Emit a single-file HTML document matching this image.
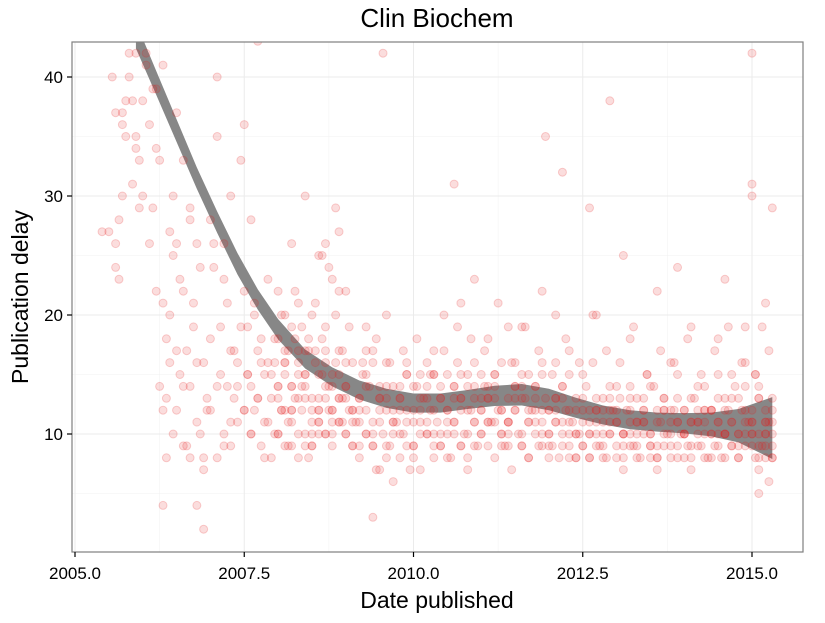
<!DOCTYPE html>
<html><head><meta charset="utf-8"><style>
body{margin:0;background:#fff;font-family:"Liberation Sans",sans-serif}
svg text{font-family:"Liberation Sans",sans-serif}
</style></head><body>
<svg id="chart" width="825" height="618" xmlns="http://www.w3.org/2000/svg">
<rect width="825" height="618" fill="#fff"/>
<text x="437" y="27" font-size="26" text-anchor="middle">Clin Biochem</text>
<g id="grid"></g>
<g id="smooth"></g>
<g id="pts"></g>
<rect x="72" y="42" width="731" height="510" fill="none" stroke="#7f7f7f" stroke-width="1.2"/>
<g id="axes"></g>
<text x="437" y="608" font-size="23" text-anchor="middle">Date published</text>
<text transform="translate(28,297) rotate(-90)" font-size="23" text-anchor="middle">Publication delay</text>
</svg>
<script>
const xTicks=[2005,2007.5,2010,2012.5,2015];
const xTickLabels=["2005.0","2007.5","2010.0","2012.5","2015.0"];
const yTicks=[10,20,30,40];
const smoothX=[2005.9,2006.2,2006.5,2006.8,2007.1,2007.4,2007.7,2008,2008.4,2008.8,2009.2,2009.6,2010,2010.4,2010.8,2011.2,2011.6,2012,2012.4,2012.8,2013.2,2013.6,2014,2014.4,2014.8,2015.3];
const smoothY=[43.5,39.5,35.5,31.5,27.8,24.3,21.3,18.8,16.3,14.8,13.7,13.0,12.6,12.6,12.9,13.2,13.3,12.9,12.2,11.6,11.2,11.0,10.9,10.8,10.7,10.5];
const smoothHalf=[1.1,1.0,0.95,0.9,0.9,0.9,0.85,0.85,0.8,0.8,0.8,0.8,0.8,0.8,0.8,0.85,0.9,0.9,0.85,0.8,0.8,0.8,0.85,1.0,1.4,2.6];
const dates=[2005.4,2005.5,2005.6,2005.6,2005.65,2005.7,2005.7,2005.75,2005.8,2005.85,2005.9,2005.9,2005.95,2005.95,2005.6,2005.65,2005.7,2005.8,2005.85,
2006.0,2006.0,2006.05,2006.1,2006.1,2006.15,2006.2,2006.2,2006.25,2006.25,2006.3,2006.3,2006.35,2006.35,2006.4,2006.4,2006.45,2006.45,2006.5,2006.5,2006.55,2006.6,2006.6,2006.65,2006.7,2006.7,2006.75,2006.8,2006.8,2006.85,2006.9,2006.9,2006.95,2006.3,2006.35,2006.4,2006.45,2006.5,2006.55,2006.6,2006.65,2006.7,2006.75,2006.8,2006.85,2006.9,2006.95,2006.2,2006.3,2006.5,2006.6,2006.7,2006.8,2006.9,
2007.0,2007.0,2007.05,2007.1,2007.1,2007.15,2007.2,2007.2,2007.25,2007.3,2007.3,2007.35,2007.4,2007.4,2007.45,2007.5,2007.5,2007.55,2007.6,2007.6,2007.65,2007.7,2007.7,2007.75,2007.8,2007.8,2007.85,2007.9,2007.9,2007.95,2007.0,2007.1,2007.2,2007.3,2007.4,2007.5,2007.6,2007.7,2007.8,2007.9,2007.05,2007.15,2007.25,2007.35,2007.45,2007.55,2007.65,2007.75,2007.85,2007.95,2007.1,2007.3,2007.5,2007.7,2007.2,2007.6,
2008.0,2008.0,2008.05,2008.1,2008.1,2008.15,2008.2,2008.2,2008.25,2008.3,2008.3,2008.35,2008.4,2008.4,2008.45,2008.5,2008.5,2008.55,2008.6,2008.6,2008.65,2008.7,2008.7,2008.75,2008.8,2008.8,2008.85,2008.9,2008.9,2008.95,2008.0,2008.1,2008.2,2008.3,2008.4,2008.5,2008.6,2008.7,2008.8,2008.9,2008.05,2008.15,2008.25,2008.35,2008.45,2008.55,2008.65,2008.75,2008.85,2008.95,2008.2,2008.4,2008.6,2008.8,2008.5,2008.7];
const delays=[27,27,26,37,23,37,30,35,40,38,42,34,29,33,24,28,36,42,31,
38,30,42,36,26,29,22,34,14,33,12,21,18,8,16,27,10,30,12,26,15,9,22,17,8,14,19,11,26,10,8,16,12,4,13,20,25,17,23,14,9,28,21,16,24,7,13,39,41,37,33,29,4,2,
18,12,26,8,35,15,10,23,14,17,9,13,16,11,19,12,22,15,10,14,20,13,17,9,15,11,16,8,13,10,28,14,9,11,14,12,10,13,8,15,24,19,21,17,33,15,12,18,11,16,40,30,36,43,26,28,
10,22,12,9,16,11,14,19,13,8,21,12,15,10,18,13,9,17,12,11,15,10,19,14,12,9,16,11,22,13,14,17,12,10,9,20,13,10,15,11,12,9,18,14,8,16,25,12,29,11,26,30];
const dates2=[2009.0,2009.0,2009.05,2009.1,2009.1,2009.15,2009.2,2009.2,2009.25,2009.3,2009.3,2009.35,2009.4,2009.4,2009.45,2009.5,2009.5,2009.55,2009.6,2009.6,2009.65,2009.7,2009.7,2009.75,2009.8,2009.8,2009.85,2009.9,2009.9,2009.95,
2010.0,2010.0,2010.05,2010.1,2010.1,2010.15,2010.2,2010.2,2010.25,2010.3,2010.3,2010.35,2010.4,2010.4,2010.45,2010.5,2010.5,2010.55,2010.6,2010.6,2010.65,2010.7,2010.7,2010.75,2010.8,2010.8,2010.85,2010.9,2010.9,2010.95,
2011.0,2011.0,2011.05,2011.1,2011.1,2011.15,2011.2,2011.2,2011.25,2011.3,2011.3,2011.35,2011.4,2011.4,2011.45,2011.5,2011.5,2011.55,2011.6,2011.6,2011.65,2011.7,2011.7,2011.75,2011.8,2011.8,2011.85,2011.9,2011.9,2011.95,
2012.0,2012.0,2012.05,2012.1,2012.1,2012.15,2012.2,2012.2,2012.25,2012.3,2012.3,2012.35,2012.4,2012.4,2012.45,2012.5,2012.5,2012.55,2012.6,2012.6,2012.65,2012.7,2012.7,2012.75,2012.8,2012.8,2012.85,2012.9,2012.9,2012.95,
2013.0,2013.0,2013.05,2013.1,2013.1,2013.15,2013.2,2013.2,2013.25,2013.3,2013.3,2013.35,2013.4,2013.4,2013.45,2013.5,2013.5,2013.55,2013.6,2013.6,2013.65,2013.7,2013.7,2013.75,2013.8,2013.8,2013.85,2013.9,2013.9,2013.95,
2014.0,2014.0,2014.05,2014.1,2014.1,2014.15,2014.2,2014.2,2014.25,2014.3,2014.3,2014.35,2014.4,2014.4,2014.45,2014.5,2014.5,2014.55,2014.6,2014.6,2014.65,2014.7,2014.7,2014.75,2014.8,2014.8,2014.85,2014.9,2014.9,2014.95,
2015.0,2015.0,2015.05,2015.1,2015.1,2015.15,2015.2,2015.2,2015.25,2015.3,2015.3,2015.0,2015.05,2015.1,2015.15,2015.2,2015.25,2015.3,2015.3,2015.0,2015.1,2015.2,
2005.55,2005.75,2005.9,2006.05,2006.15,2012.6,2012.9,2013.1,2014.6,2015.0,2009.4,2009.55,2010.6,2011.6,2011.95,2012.2];
const delays2=[10,14,12,9,16,11,13,8,15,10,12,14,9,17,7,11,13,10,16,12,9,14,6,11,13,8,10,15,12,7,
12,9,14,11,7,13,10,16,12,8,15,11,9,13,17,10,12,8,14,11,19,9,13,10,15,7,12,11,14,9,
12,10,14,9,13,11,8,15,12,10,16,9,13,11,7,14,12,10,15,9,13,11,8,12,14,10,9,16,11,13,
10,12,9,13,11,8,14,10,12,9,15,11,8,13,10,12,9,14,11,8,16,10,12,9,13,11,8,14,10,12,
11,9,13,10,8,12,11,14,9,10,13,8,12,11,15,9,10,14,8,12,11,9,13,10,16,8,12,11,9,10,
10,12,9,11,8,13,10,12,9,14,11,8,10,12,9,15,11,8,13,10,12,9,11,14,8,10,12,9,16,11,
9,11,8,10,13,9,12,8,11,10,9,30,15,7,19,11,6,29,13,42,5,21,
40,38,35,41,39,29,38,25,23,31,3,42,31,19,35,32];
const dates3=[2007.55,2007.65,2007.75,2007.85,2007.95,2008.05,2008.15,2008.25,2008.35,2008.45,2008.55,2008.65,2008.75,2008.85,2008.95,2009.05,2009.25,2009.45,2009.65,2009.85,2010.05,2010.25,2010.45,2010.65,2010.85,2011.05,2011.25,2011.45,2011.65,2011.85,2012.05,2012.25,2012.45,2012.65,2012.85,2013.05,2013.25,2013.45,2013.65,2013.85,2014.05,2014.25,2014.45,2014.65,2014.85,2015.05,2015.25,
2008.6,2008.7,2008.8,2009.0,2009.3,2009.6,2010.3,2010.7,2011.1,2011.4,2011.9,2012.3,2012.7,2013.2,2013.6,2014.1,2014.5,2014.9,2008.9,2010.9,2012.1,2013.9];
const delays3=[19,21,16,23,18,20,17,22,19,17,21,18,24,20,17,19,16,18,16,17,18,15,20,16,18,17,21,16,19,17,15,18,16,20,17,16,19,15,17,16,18,15,17,19,16,15,17,
25,26,23,22,19,20,17,21,18,19,22,17,20,18,22,19,18,19,27,23,20,24];
const sweepDates=[2008.0,2008.2,2008.4,2008.6,2008.8,2009.0,2009.2,2009.4,2009.6,2009.8,2010.0,2010.2,2010.4,2010.6,2010.8,2011.0,2011.2,2011.4,2011.6,2011.8,2012.0,2012.2,2012.4,2012.6,2012.8,2013.0,2013.2,2013.4,2013.6,2013.8,2014.0,2014.2,2014.4,2014.6,2014.8,2015.0,2015.2,
2008.1,2008.3,2008.5,2008.7,2008.9,2009.1,2009.3,2009.5,2009.7,2009.9,2010.1,2010.3,2010.5,2010.7,2010.9,2011.1,2011.3,2011.5,2011.7,2011.9,2012.1,2012.3,2012.5,2012.7,2012.9,2013.1,2013.3,2013.5,2013.7,2013.9,2014.1,2014.3,2014.5,2014.7,2014.9,2015.1,2015.3];
const sweepDelays1=[14,12,13,11,12,10,12,11,9,10,11,10,9,11,10,12,11,10,9,11,10,9,8,10,9,8,9,10,8,9,10,9,8,10,9,10,9,16,15,12,14,13,12,10,13,12,11,13,12,11,12,13,11,12,13,12,10,11,10,11,9,11,10,11,9,10,11,9,10,11,9,11,8,11];
const sweepDelays2=[18,14,17,15,11,14,13,9,14,13,8,14,13,10,14,13,14,11,14,13,12,11,10,12,10,12,10,12,11,10,12,11,10,12,10,12,10,12,17,10,13,15,11,14,12,10,15,12,9,15,13,9,11,10,12,11,15,13,12,9,11,12,9,11,8,12,13,11,12,9,11,12,9,8];
const sweepDelays3=[13,11,15,12,14,16,11,10,13,12,14,11,10,14,12,15,13,9,10,12,9,13,12,10,8,11,13,11,9,12,8,11,12,10,8,11,10,20,16,11,17,13,9,15,14,11,9,10,15,12,9,11,14,9,14,15,9,12,8,13,12,13,10,8,10,13,8,13,8,10,13,14,13,12];
const sweepDelays4=[10,9,14,10,10,13,9,16,8,14,9,13,14,13,8,10,15,11,13,14,8,14,10,8,12,14,12,13,7,11,10,14,12,8,13,10,11,15,13,9,16,17,12,17,7,11,16,15,10,8,15,16,13,12,16,8,12,16,11,15,13,10,7,9,14,12,15,7,12,13,15,10,14,8];
const X0=2005,X1=2015,PX0=75,PX1=752;const Y0=0,Y1=40,PY0=553,PY1=77;
const sx=v=>PX0+(v-X0)*(PX1-PX0)/(X1-X0);
const sy=v=>PY0+(v-Y0)*(PY1-PY0)/(Y1-Y0);
const NS="http://www.w3.org/2000/svg";
function mk(t,a){const e=document.createElementNS(NS,t);for(const k in a)e.setAttribute(k,a[k]);return e;}
const grid=document.getElementById('grid'),axes=document.getElementById('axes');
const minorX=[2006.25,2008.75,2011.25,2013.75];const minorY=[5,15,25,35];
minorX.forEach(v=>{const l=mk('line',{x1:sx(v),x2:sx(v),y1:42,y2:552,stroke:'#f2f2f2','stroke-width':0.6});grid.appendChild(l);});
minorY.forEach(v=>{const l=mk('line',{x1:72,x2:803,y1:sy(v),y2:sy(v),stroke:'#f2f2f2','stroke-width':0.6});grid.appendChild(l);});
xTicks.forEach((v,i)=>{const l=mk('line',{x1:sx(v),x2:sx(v),y1:42,y2:552,stroke:'#ebebeb','stroke-width':1});grid.appendChild(l);
const t=mk('line',{x1:sx(v),x2:sx(v),y1:552,y2:557,stroke:'#000','stroke-width':1.2});axes.appendChild(t);
const tx=mk('text',{x:sx(v),y:579,'font-size':17,'text-anchor':'middle'});tx.textContent=xTickLabels[i];axes.appendChild(tx);});
yTicks.forEach(v=>{const l=mk('line',{x1:72,x2:803,y1:sy(v),y2:sy(v),stroke:'#ebebeb','stroke-width':1});grid.appendChild(l);
const t=mk('line',{x1:67,x2:72,y1:sy(v),y2:sy(v),stroke:'#000','stroke-width':1.2});axes.appendChild(t);
const tx=mk('text',{x:63,y:sy(v)+6,'font-size':17,'text-anchor':'end'});tx.textContent=v;axes.appendChild(tx);});
let up=[],dn=[];smoothX.forEach((x,i)=>{up.push(sx(x)+','+sy(smoothY[i]+smoothHalf[i]));dn.unshift(sx(x)+','+sy(smoothY[i]-smoothHalf[i]));});
const cp=mk('clipPath',{id:'clip'});cp.appendChild(mk('rect',{x:72,y:42,width:731,height:510}));document.getElementById('chart').appendChild(cp);
const band=mk('polygon',{points:up.concat(dn).join(' '),fill:'#878787','clip-path':'url(#clip)'});document.getElementById('smooth').appendChild(band);
const pts=document.getElementById('pts');
function plot(ds,ys){const n=Math.min(ds.length,ys.length);for(let i=0;i<n;i++){if(ys[i]>43||ys[i]<0)continue;const c=mk('circle',{cx:sx(ds[i]),cy:sy(ys[i]),r:4,fill:'rgba(230,30,30,0.15)',stroke:'rgba(230,30,30,0.2)','stroke-width':1,'clip-path':'url(#clip)'});


pts.appendChild(c);}}
plot(dates,delays);plot(dates2,delays2);plot(dates3,delays3);
plot(sweepDates,sweepDelays1);plot(sweepDates,sweepDelays2);plot(sweepDates,sweepDelays3);plot(sweepDates,sweepDelays4);
</script>
</body></html>
